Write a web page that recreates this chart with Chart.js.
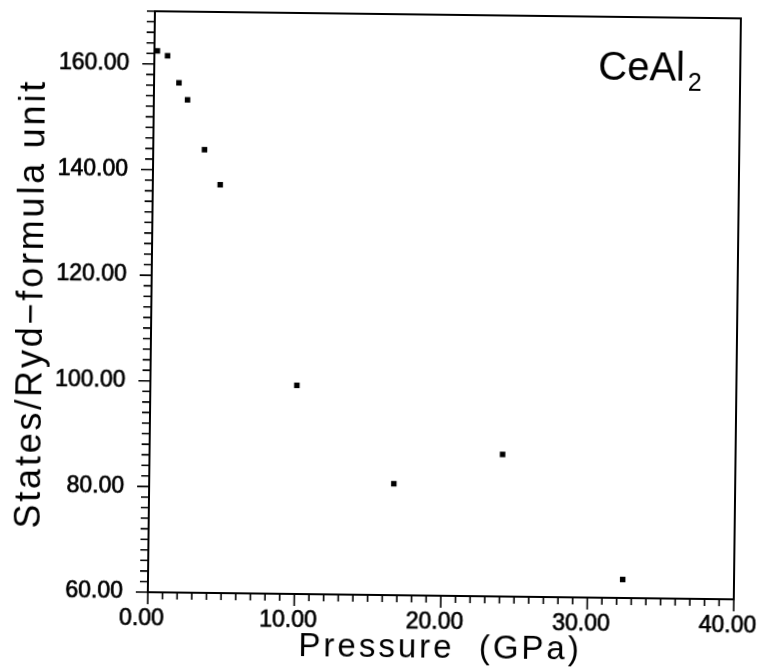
<!DOCTYPE html>
<html>
<head>
<meta charset="utf-8">
<script src="https://cdn.jsdelivr.net/npm/chart.js@4/dist/chart.umd.min.js"></script>
<style>
  html, body { margin: 0; padding: 0; background: #fff; overflow: hidden; }
  #wrap { width: 760px; height: 669px; transform: rotate(0.7deg); transform-origin: 380px 334.5px; }
  canvas { display: block; }
</style>
</head>
<body>
<div id="wrap"><canvas id="c" width="760" height="669"></canvas></div>
<script>
// Density of states at the Fermi level of CeAl2 versus pressure
const pressure     = [0.2, 0.9, 1.7, 2.3, 3.5, 4.6, 10.0, 16.7, 24.1, 32.4];
const statesPerRyd = [162.5, 161.6, 156.5, 153.3, 143.9, 137.3, 99.5, 81.1, 86.9, 63.5];

const xTickValues = [0, 10, 20, 30, 40];
const yTickValues = [60, 80, 100, 120, 140, 160];

const xTitle = 'Pressure  (GPa)';
const yTitle = 'States/Ryd\u2212formula unit';
const compound = 'CeAl';
const compoundSub = '2';

const FONT = "'Liberation Sans', Arial, Helvetica, sans-serif";

// keep the plot box fixed: no extra room reserved for overhanging end labels
function noOverhang(s) {
  s.paddingLeft = 0; s.paddingRight = 0; s.paddingTop = 0; s.paddingBottom = 0;
}

// Closed frame, minor/major tick marks, axis titles and compound label
const decorations = {
  id: 'decorations',
  afterDraw(chart) {
    const { ctx, chartArea: a, scales: { x, y } } = chart;
    ctx.save();
    ctx.strokeStyle = '#000';
    ctx.lineWidth = 2;
    ctx.beginPath();
    ctx.moveTo(a.left, a.top);
    ctx.lineTo(a.right, a.top);
    ctx.lineTo(a.right, a.bottom);
    ctx.stroke();

    ctx.lineWidth = 1.6;
    ctx.beginPath();
    for (let v = x.min; v <= x.max + 1e-9; v += 1) {
      const px = x.getPixelForValue(v);
      const len = Math.abs(v % 10) < 1e-9 ? 12 : 7;
      ctx.moveTo(px, a.bottom);
      ctx.lineTo(px, a.bottom + len);
    }
    for (let v = y.min; v <= y.max + 1e-9; v += 2) {
      const py = y.getPixelForValue(v);
      const len = Math.abs((v - y.min) % 20) < 1e-9 ? 12 : 8;
      ctx.moveTo(a.left - len, py);
      ctx.lineTo(a.left, py);
    }
    ctx.stroke();

    ctx.fillStyle = '#000';
    ctx.textBaseline = 'alphabetic';

    // x-axis title
    ctx.font = '33px ' + FONT;
    ctx.letterSpacing = '3px';
    ctx.textAlign = 'center';
    ctx.fillText(xTitle, (a.left + a.right) / 2, 657);

    // y-axis title
    ctx.save();
    ctx.font = '36px ' + FONT;
    ctx.letterSpacing = '2.8px';
    ctx.translate(42, 308);
    ctx.rotate(-Math.PI / 2);
    ctx.textAlign = 'center';
    ctx.fillText(yTitle, 0, 0);
    ctx.restore();

    // compound label with subscript
    ctx.letterSpacing = '0px';
    ctx.textAlign = 'left';
    ctx.font = '40px ' + FONT;
    const lx = a.right - 142;
    const ly = a.top + 63;
    ctx.fillText(compound, lx, ly);
    const w = ctx.measureText(compound).width;
    ctx.font = '25px ' + FONT;
    ctx.fillText(compoundSub, lx + w + 3, ly + 10);
    ctx.restore();
  }
};

const tickFont = { family: FONT, size: 23 };

new Chart(document.getElementById('c'), {
  type: 'scatter',
  data: {
    datasets: [{
      data: pressure.map((p, i) => ({ x: p, y: statesPerRyd[i] })),
      pointStyle: 'rect',
      pointRadius: 3.9,
      backgroundColor: '#000',
      borderColor: '#000',
      borderWidth: 0
    }]
  },
  options: {
    responsive: false,
    animation: false,
    events: [],
    layout: { padding: { left: 0, right: 23, top: 14, bottom: 0 } },
    plugins: { legend: { display: false }, tooltip: { enabled: false } },
    scales: {
      x: {
        type: 'linear',
        min: 0, max: 40,
        afterFit(s) { s.height = 74; noOverhang(s); },
        afterBuildTicks(s) { s.ticks = xTickValues.map(v => ({ value: v })); },
        border: { display: true, color: '#000', width: 2 },
        grid: { display: true, drawOnChartArea: false, drawTicks: false },
        ticks: {
          padding: 13,
          labelOffset: -6,
          color: '#000',
          textStrokeColor: '#000',
          textStrokeWidth: 0.7,
          font: tickFont,
          maxRotation: 0,
          callback: v => Number(v).toFixed(2)
        }
      },
      y: {
        type: 'linear',
        min: 60, max: 170,
        afterFit(s) { s.width = 151; noOverhang(s); },
        afterBuildTicks(s) { s.ticks = yTickValues.map(v => ({ value: v })); },
        border: { display: true, color: '#000', width: 2 },
        grid: { display: true, drawOnChartArea: false, drawTicks: false },
        ticks: {
          padding: 25,
          color: '#000',
          textStrokeColor: '#000',
          textStrokeWidth: 0.7,
          font: tickFont,
          callback: v => Number(v).toFixed(2)
        }
      }
    }
  },
  plugins: [decorations]
});
</script>
</body>
</html>
